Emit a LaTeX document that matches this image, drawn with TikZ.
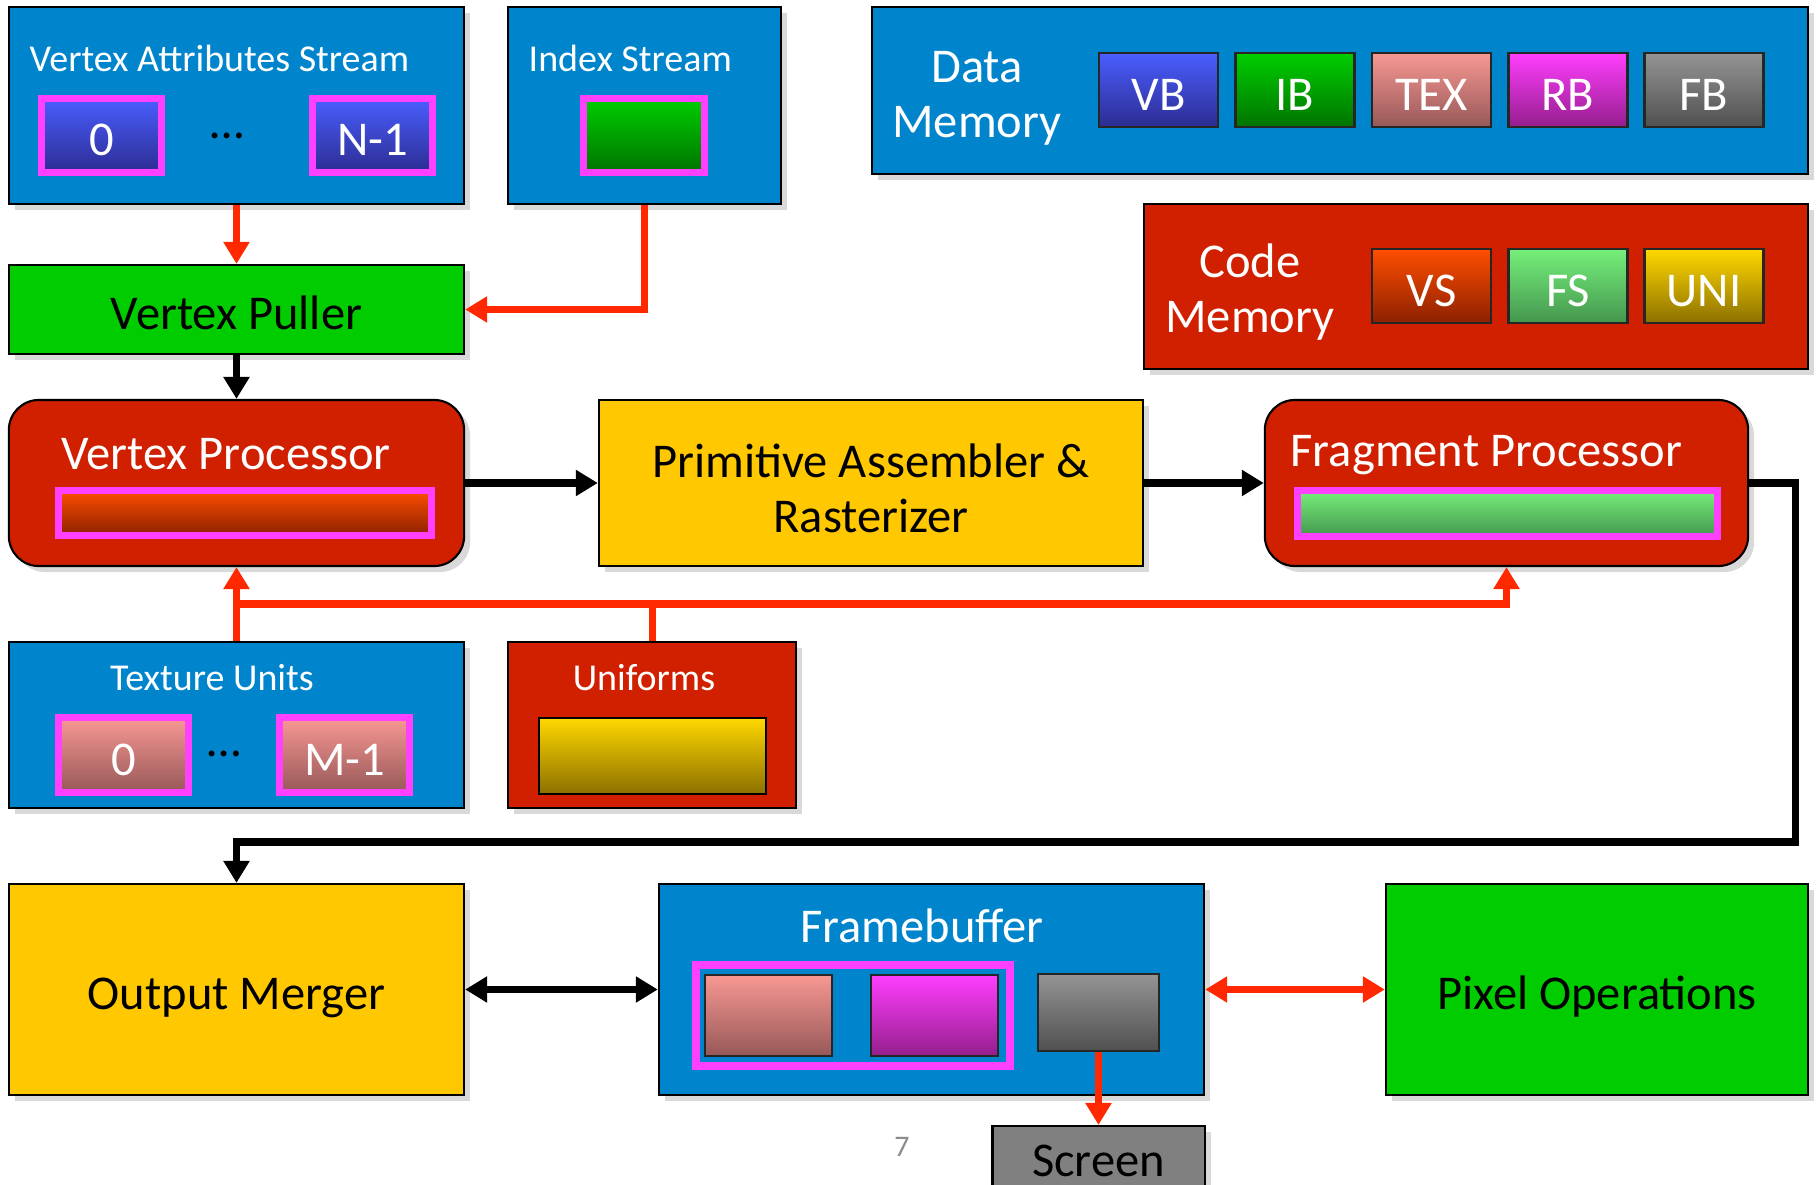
\documentclass[tikz,border=0pt]{standalone}
\usepackage{fontspec}
\setmainfont{Carlito}
\usetikzlibrary{arrows.meta,shadows}
\definecolor{boxblue}{RGB}{0,132,204}
\definecolor{boxred}{RGB}{208,32,0}
\definecolor{boxyellow}{RGB}{255,200,0}
\definecolor{boxgreen}{RGB}{0,204,0}
\definecolor{framemag}{RGB}{255,64,255}
\definecolor{wirered}{RGB}{255,40,0}
\definecolor{vbtop}{RGB}{74,94,255}\definecolor{vbbot}{RGB}{44,44,145}
\definecolor{ibtop}{RGB}{0,206,0}\definecolor{ibbot}{RGB}{0,115,0}
\definecolor{textop}{RGB}{248,152,147}\definecolor{texbot}{RGB}{150,88,88}
\definecolor{rbtop}{RGB}{255,62,255}\definecolor{rbbot}{RGB}{148,30,140}
\definecolor{fbtop}{RGB}{148,148,148}\definecolor{fbbot}{RGB}{80,80,80}
\definecolor{vstop}{RGB}{255,78,0}\definecolor{vsbot}{RGB}{140,32,0}
\definecolor{fstop}{RGB}{118,240,122}\definecolor{fsbot}{RGB}{68,150,78}
\definecolor{unitop}{RGB}{255,216,0}\definecolor{unibot}{RGB}{140,112,0}
\begin{document}
\begin{tikzpicture}[x=0.01cm,y=-0.01cm,>={Triangle[length=0.22cm,width=0.25cm]},
    box/.style={draw=black,line width=0.6pt,inner sep=0pt,drop shadow={opacity=0.3,shadow xshift=0.06cm,shadow yshift=-0.06cm}},
    blubox/.style={box,fill=boxblue},
    redbox/.style={box,fill=boxred},
    yelbox/.style={box,fill=boxyellow},
    grnbox/.style={box,fill=boxgreen},
    bigtext/.style={font=\fontsize{13.8}{15.6}\selectfont},
    lowtext/.style={text height=11.5pt,text depth=0pt},
    smalltext/.style={font=\fontsize{10.8}{13}\selectfont,text=white,inner sep=0pt},
    buf/.style={draw=framemag,line width=0.07cm,inner sep=0pt,bigtext,lowtext,text=white},
    cell/.style={draw=black!85,line width=0.6pt,minimum width=1.19cm,minimum height=0.74cm,inner sep=0pt,bigtext,lowtext,text=white},
    wire/.style={draw=wirered,line width=0.07cm},
    pipe/.style={draw=black,line width=0.07cm}]
\useasboundingbox (0,0) rectangle (1820,1185);
\node[blubox,minimum width=4.55cm,minimum height=1.97cm] (vas) at (236.5,105.5) {};
\node[smalltext,anchor=west] (vastitle) at (29,58) {Vertex Attributes Stream};
\node[buf,minimum width=1.2cm,minimum height=0.74cm,top color=vbtop,bottom color=vbbot] (vafirst) at (101.5,135.5) {0};
\node[bigtext] (vadots) at (227,136) {\dots};
\node[buf,minimum width=1.2cm,minimum height=0.74cm,top color=vbtop,bottom color=vbbot] (valast) at (372.5,135.5) {N-1};
\node[blubox,minimum width=2.73cm,minimum height=1.97cm] (idx) at (644.5,105.5) {};
\node[smalltext,anchor=west] (idxtitle) at (528,58) {Index Stream};
\node[buf,minimum width=1.21cm,minimum height=0.74cm,top color=ibtop,bottom color=ibbot] (idxbuf) at (644,135.5) {};
\node[blubox,minimum width=9.36cm,minimum height=1.67cm] (datamem) at (1340,90.5) {};
\node[bigtext,text=white,align=center] (datatitle) at (977,98) {Data\\Memory};
\node[cell,top color=vbtop,bottom color=vbbot] (vb) at (1158.5,90) {VB};
\node[cell,top color=ibtop,bottom color=ibbot] (ib) at (1295,90) {IB};
\node[cell,top color=textop,bottom color=texbot] (texb) at (1431.5,90) {TEX};
\node[cell,top color=rbtop,bottom color=rbbot] (rb) at (1568,90) {RB};
\node[cell,top color=fbtop,bottom color=fbbot] (fbb) at (1704,90) {FB};
\node[redbox,minimum width=6.64cm,minimum height=1.65cm] (codemem) at (1476,286.5) {};
\node[bigtext,text=white,align=center] (codetitle) at (1250,292) {Code\\Memory};
\node[cell,top color=vstop,bottom color=vsbot] (vs) at (1431.5,286) {VS};
\node[cell,top color=fstop,bottom color=fsbot] (fs) at (1568,286) {FS};
\node[cell,top color=unitop,bottom color=unibot] (uni) at (1704,286) {UNI};
\node[grnbox,bigtext,lowtext,minimum width=4.55cm,minimum height=0.89cm] (puller) at (236.5,309.5) {Vertex Puller};
\node[redbox,rounded corners=0.3cm,minimum width=4.55cm,minimum height=1.66cm] (vproc) at (236.5,483) {};
\node[bigtext,text=white] (vproctitle) at (226,454) {Vertex Processor};
\node[buf,minimum width=3.73cm,minimum height=0.45cm,top color=vstop,bottom color=vsbot] (vpbar) at (245,513) {};
\node[yelbox,bigtext,align=center,minimum width=5.44cm,minimum height=1.66cm] (prim) at (871,483) {};
\node[bigtext,align=center] (primtext) at (871,488) {Primitive Assembler \&\\Rasterizer};
\node[redbox,rounded corners=0.3cm,minimum width=4.83cm,minimum height=1.66cm] (fproc) at (1506.5,483) {};
\node[bigtext,text=white,anchor=west,inner sep=0pt] (fproctitle) at (1290,455) {Fragment Processor};
\node[buf,minimum width=4.2cm,minimum height=0.46cm,top color=fstop,bottom color=fsbot] (fpbar) at (1507.5,513.5) {};
\node[blubox,minimum width=4.55cm,minimum height=1.66cm] (tex) at (236.5,725) {};
\node[smalltext] (textitle) at (212,678) {Texture Units};
\node[buf,minimum width=1.3cm,minimum height=0.75cm,top color=textop,bottom color=texbot] (texfirst) at (123.5,755) {0};
\node[bigtext] (texdots) at (224,754) {\dots};
\node[buf,minimum width=1.3cm,minimum height=0.75cm,top color=textop,bottom color=texbot] (texlast) at (344.5,755) {M-1};
\node[redbox,minimum width=2.88cm,minimum height=1.66cm] (unif) at (652,725) {};
\node[smalltext] (uniftitle) at (644,678) {Uniforms};
\node[draw=black,line width=0.8pt,inner sep=0pt,minimum width=2.27cm,minimum height=0.76cm,top color=unitop,bottom color=unibot] (unifbuf) at (652.5,756) {};
\node[yelbox,bigtext,lowtext,minimum width=4.55cm,minimum height=2.11cm] (merger) at (236.5,989.5) {Output Merger};
\node[blubox,minimum width=5.45cm,minimum height=2.11cm] (fb) at (931.5,989.5) {};
\node[bigtext,text=white] (fbtitle) at (922,926) {Framebuffer};
\node[draw=framemag,line width=0.08cm,minimum width=3.14cm,minimum height=1.01cm] (fbframe) at (853,1015.5) {};
\node[draw=black!85,line width=0.6pt,minimum width=1.27cm,minimum height=0.81cm,top color=textop,bottom color=texbot] (fbcolor) at (768.5,1015.5) {};
\node[draw=black!85,line width=0.6pt,minimum width=1.27cm,minimum height=0.81cm,top color=rbtop,bottom color=rbbot] (fbdepth) at (934.5,1015.5) {};
\node[draw=black!85,line width=0.6pt,minimum width=1.21cm,minimum height=0.77cm,top color=fbtop,bottom color=fbbot] (fbfront) at (1098.5,1012.5) {};
\node[grnbox,bigtext,lowtext,minimum width=4.22cm,minimum height=2.11cm] (pixops) at (1597,989.5) {Pixel Operations};
\node[box,fill=black!50,bigtext,lowtext,minimum width=2.12cm,minimum height=0.6cm] (screen) at (1098.5,1156) {Screen};
\node[font=\fontsize{8.5}{10}\selectfont,text=black!45] (pagenum) at (902,1147) {7};
\coordinate (bus) at (0,604);
\coordinate (loop) at (1795,842);
\draw[wire,->] (vas.south) -- (puller.north);
\draw[wire,->] (idx.south) |- (puller.east);
\draw[pipe,->] (puller.south) -- (vproc.north);
\draw[pipe,->] (vproc.east) -- (prim.west);
\draw[pipe,->] (prim.east) -- (fproc.west);
\draw[pipe,->] (fproc.east) -| (loop) -| (merger.north);
\draw[wire,->] (tex.north) -- (vproc.south);
\draw[wire,->] (tex.north |- bus) -| (fproc.south);
\draw[wire] (unif.north) -- (unif.north |- bus);
\draw[pipe,<->] (merger.east) -- (fb.west);
\draw[wire,<->] (fb.east) -- (pixops.west);
\draw[wire,->] (fbfront.south) -- (screen.north);
\end{tikzpicture}
\end{document}
